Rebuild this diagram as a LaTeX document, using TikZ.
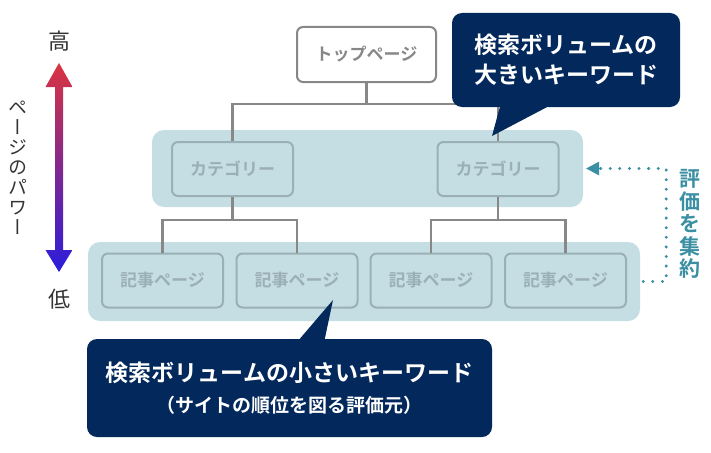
\documentclass[tikz,border=0pt]{standalone}
\usepackage{fontspec}
\setmainfont{Noto Sans CJK JP}[BoldFont={Noto Sans CJK JP Bold}]
\newfontfamily\jpvert{Noto Sans CJK JP}[RawFeature=+vert]
\usetikzlibrary{arrows.meta}
\definecolor{bandfill}{HTML}{C5DEE3}
\definecolor{boxline}{HTML}{9AB0B6}
\definecolor{topgray}{HTML}{878787}
\definecolor{linegray}{HTML}{888888}
\definecolor{callblue}{HTML}{02285C}
\definecolor{teal}{HTML}{3A8FA3}
\definecolor{hired}{HTML}{DA3440}
\definecolor{loblue}{HTML}{2A1CDD}
\definecolor{txtgray}{HTML}{333333}

\begin{document}
\begin{tikzpicture}[x=1pt,y=-1pt,
	band/.style={fill=bandfill, rounded corners=12pt},
	page/.style={draw=topgray, line width=2pt, rounded corners=6pt, fill=white, minimum width=139, minimum height=55, text=topgray, font=\bfseries\fontsize{17}{17}\selectfont},
	sub/.style={draw=boxline, line width=2pt, rounded corners=6pt, minimum width=121, minimum height=54, text=boxline, font=\bfseries\fontsize{17}{17}\selectfont},
	link/.style={draw=linegray, line width=2.2pt},
	callout/.style={fill=callblue, rounded corners=10pt, text=white, align=center},
	dots/.style={draw=teal, line width=3.3pt, line cap=round, dash pattern=on 0pt off 9.6pt}]
	\useasboundingbox (0,0) rectangle (711,452);

	\node[band, minimum width=431, minimum height=77] (band1) at (367.5,168.5) {};
	\node[band, minimum width=552, minimum height=79] (band2) at (364,281.5) {};

	\node[page] (top) at (366.5,54.5) {トップページ};
	\node[sub] (catL) at (232.5,169) {カテゴリー};
	\node[sub] (catR) at (498,169) {カテゴリー};
	\node[sub] (art1) at (162.5,280.5) {記事ページ};
	\node[sub] (art2) at (297,280.5) {記事ページ};
	\node[sub] (art3) at (431,280.5) {記事ページ};
	\node[sub] (art4) at (565.5,280.5) {記事ページ};

	\draw[link] (top.south) -- ++(0,21) coordinate (j0);
	\draw[link] (j0) -| (catL.north);
	\draw[link] (j0) -| (catR.north);
	\draw[link] (catL.south) -- ++(0,23) coordinate (j1);
	\draw[link] (j1) -| (art1.north);
	\draw[link] (j1) -| (art2.north);
	\draw[link] (catR.south) -- ++(0,23) coordinate (j2);
	\draw[link] (j2) -| (art3.north);
	\draw[link] (j2) -| (art4.north);

	\node[callout, minimum width=228, minimum height=94, font=\bfseries\fontsize{23}{30}\selectfont] (callBig) at (566,60) {検索ボリュームの\\大きいキーワード};
	\coordinate (tipBig) at (492,136);
	\fill[callblue] ([xshift=48]callBig.south west) -- ([xshift=95]callBig.south west) -- (tipBig) -- cycle;

	\node[callout, minimum width=405, minimum height=98, font=\bfseries\fontsize{23}{31}\selectfont] (callSmall) at (289.5,388) {検索ボリュームの小さいキーワード\\{\fontsize{19}{31}\selectfont （サイトの順位を図る評価元）}};
	\coordinate (tipSmall) at (333,300);
	\fill[callblue] ([xshift=213]callSmall.north west) -- ([xshift=238]callSmall.north west) -- (tipSmall) -- cycle;

	\draw[dots] ([xshift=3]band2.east) -- ++(23,0) coordinate (turn) |- ([xshift=16]band1.east);
	\fill[teal] (band1.east) ++(3,0) coordinate (tipGather) -- ++(13,-7) -- ++(0,14) -- cycle;
	\node[text=teal, align=center, font=\bfseries\fontsize{21}{22.5}\selectfont] (gather) at (690,224) {評\\価\\を\\集\\約};

	\node[text=txtgray, font=\fontsize{22}{22}\selectfont] (hi) at (59,41) {高};
	\node[text=txtgray, font=\fontsize{22}{22}\selectfont] (lo) at (59,299) {低};
	\shade[top color=hired, bottom color=loblue] (59,63) -- (72.5,87) -- (63,87) -- (63,250) -- (72.5,250) -- (59,272) -- (45.5,250) -- (55,250) -- (55,87) -- (45.5,87) -- cycle;
	\node[text=txtgray, align=center, font=\jpvert\fontsize{19}{20}\selectfont] (power) at (18,168) {ペ\\ー\\ジ\\の\\パ\\ワ\\ー};
\end{tikzpicture}
\end{document}
